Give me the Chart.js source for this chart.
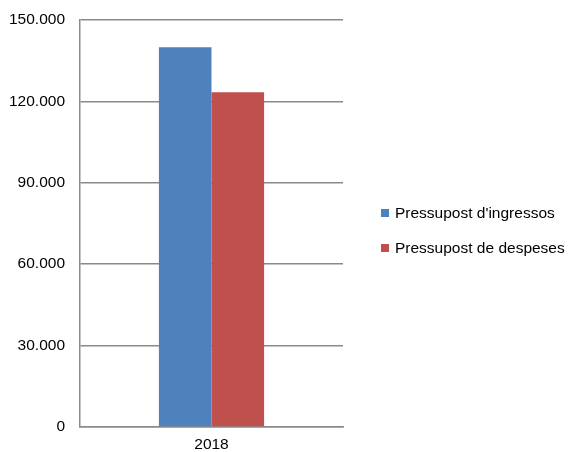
<!DOCTYPE html>
<html>
<head>
<meta charset="utf-8">
<script src="https://cdn.jsdelivr.net/npm/chart.js@4/dist/chart.umd.min.js"></script>
<style>
  html, body { margin: 0; padding: 0; background: #fff; }
  #wrap { width: 571px; height: 452px; }
</style>
</head>
<body>
<div id="wrap"><canvas id="budgetChart" width="571" height="452"></canvas></div>
<script>
// dades del pressupost
const years      = ['2018'];
const ingressos  = [140000];
const despeses   = [123400];
const seriesNames = ["Pressupost d'ingressos", 'Pressupost de despeses'];
const yTicks     = [0, 30000, 60000, 90000, 120000, 150000];

const fmt = v => String(v).replace(/\B(?=(\d{3})+(?!\d))/g, '.');
const FONT = "'Liberation Sans', Arial, sans-serif";

Chart.defaults.font.family = FONT;
Chart.defaults.color = '#000';

// llegenda a la dreta, dibuixada a mà (la de Chart.js queda retallada)
const sideLegend = {
    id: 'sideLegend',
    afterDraw(chart) {
        const ctx = chart.ctx;
        const x = chart.chartArea.right + 38;
        const y0 = 213;
        ctx.save();
        ctx.font = '15.5px ' + FONT;
        ctx.textBaseline = 'middle';
        chart.data.datasets.forEach((ds, i) => {
            const cy = y0 + i * 35;
            ctx.fillStyle = ds.backgroundColor;
            ctx.fillRect(x, cy - 4, 8, 8);
            ctx.fillStyle = '#000';
            ctx.fillText(ds.label, x + 14, cy + 1);
        });
        ctx.restore();
    }
};

new Chart(document.getElementById('budgetChart'), {
    type: 'bar',
    data: {
        labels: years,
        datasets: [
            { label: seriesNames[0], data: ingressos, backgroundColor: '#4F81BD' },
            { label: seriesNames[1], data: despeses,  backgroundColor: '#C0504D' }
        ]
    },
    options: {
        responsive: false,
        animation: false,
        layout: { padding: { top: 20, left: 0, right: 228, bottom: 0 } },
        datasets: { bar: { categoryPercentage: 0.4, barPercentage: 1 } },
        plugins: {
            tooltip: { enabled: false },
            legend: { display: false }
        },
        scales: {
            x: {
                grid: { display: false, drawTicks: false },
                border: { color: '#8a8a8a', width: 1.5 },
                ticks: { padding: 8, font: { size: 15.5 } },
                afterFit: s => { s.height = 25; }
            },
            y: {
                min: 0, max: 150000,
                afterBuildTicks: s => { s.ticks = yTicks.map(v => ({ value: v })); },
                grid: { color: '#8a8a8a', lineWidth: 1.5, drawTicks: false },
                border: { color: '#8a8a8a', width: 1.5 },
                ticks: { padding: 15, font: { size: 15.5 }, callback: v => fmt(v) },
                afterFit: s => { s.width = 80; s.paddingTop = 0; s.paddingBottom = 0; }
            }
        }
    },
    plugins: [sideLegend]
});
</script>
</body>
</html>
